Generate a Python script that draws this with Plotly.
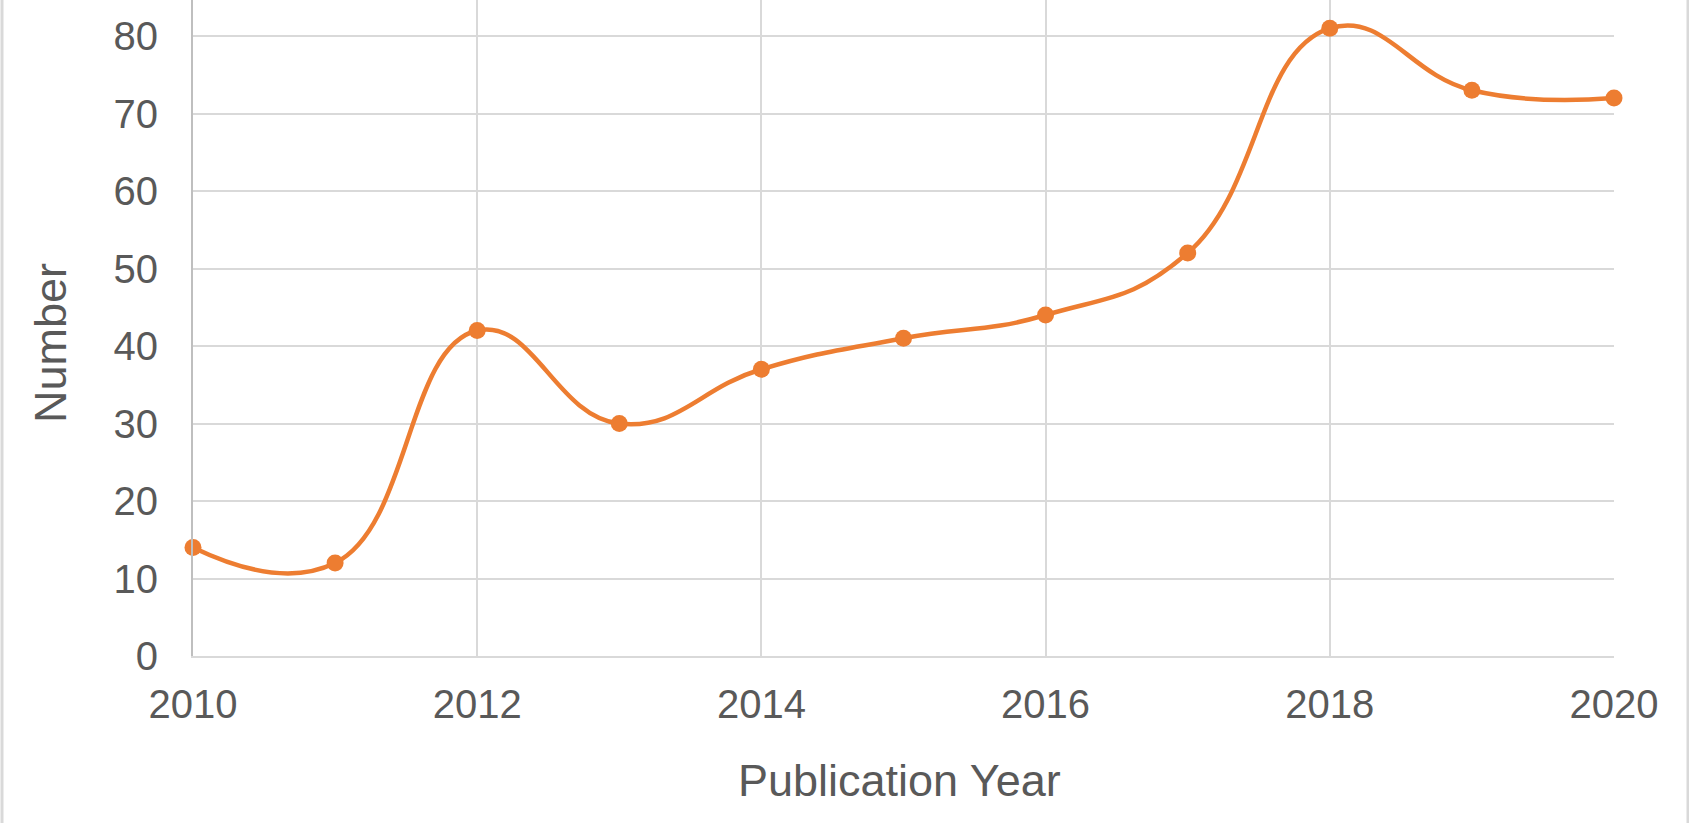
import plotly.graph_objects as go

years = [2010, 2011, 2012, 2013, 2014, 2015, 2016, 2017, 2018, 2019, 2020]
counts = [14, 12, 42, 30, 37, 41, 44, 52, 81, 73, 72]
x_ticks = [2010, 2012, 2014, 2016, 2018, 2020]
y_ticks = [0, 10, 20, 30, 40, 50, 60, 70, 80]

W, H = 1689, 823
L, R, T, B = 193, 75, 0, 167
ORANGE = "#ED7D31"
GRID = "#D9D9D9"
TXT = "#595959"
FONT = "Liberation Sans, Arial, sans-serif"

fig = go.Figure()
fig.add_trace(go.Scatter(
    x=years, y=counts, mode="lines+markers",
    line=dict(color=ORANGE, width=4.5, shape="spline", smoothing=1.3),
    marker=dict(color=ORANGE, size=17),
    showlegend=False, cliponaxis=False,
))

PW = W - L - R
PH = H - T - B

fig.update_layout(
    width=W, height=H,
    margin=dict(l=L, r=R, t=T, b=B, pad=0),
    paper_bgcolor="white", plot_bgcolor="white",
    font=dict(family=FONT, color=TXT),
    xaxis=dict(
        range=[2010, 2020], tickvals=x_ticks, ticktext=[str(v) for v in x_ticks],
        showgrid=True, gridcolor=GRID, gridwidth=2,
        showline=True, linecolor=GRID, linewidth=2,
        zeroline=False, ticks="", tickfont=dict(size=40, color=TXT, family=FONT),
        ticklabelstandoff=12,
    ),
    yaxis=dict(
        range=[0, 84.65], tickvals=y_ticks,
        showgrid=True, gridcolor=GRID, gridwidth=2,
        showline=True, linecolor="#BFBFBF", linewidth=2,
        zeroline=False, ticks="", tickfont=dict(size=40, color=TXT, family=FONT),
        ticklabelstandoff=25,
    ),
    annotations=[
        dict(text="Number", textangle=-90, xref="paper", yref="paper",
             x=(50 - L) / PW, y=1 - (343 - T) / PH,
             xanchor="center", yanchor="middle", showarrow=False,
             font=dict(size=45, color=TXT, family=FONT)),
        dict(text="Publication Year", xref="paper", yref="paper",
             x=(899 - L) / PW, y=1 - (781 - T) / PH,
             xanchor="center", yanchor="middle", showarrow=False,
             font=dict(size=45, color=TXT, family=FONT)),
    ],
    shapes=[
        dict(type="line", xref="paper", yref="paper",
             x0=(2 - L) / PW, x1=(2 - L) / PW,
             y0=-B / PH, y1=1, line=dict(color=GRID, width=3)),
        dict(type="line", xref="paper", yref="paper",
             x0=(1688 - L) / PW, x1=(1688 - L) / PW,
             y0=-B / PH, y1=1, line=dict(color=GRID, width=3)),
    ],
)

fig.write_html("out.html", config={"displayModeBar": False},
               post_script="document.body.style.margin='0';document.body.style.overflow='hidden';")
